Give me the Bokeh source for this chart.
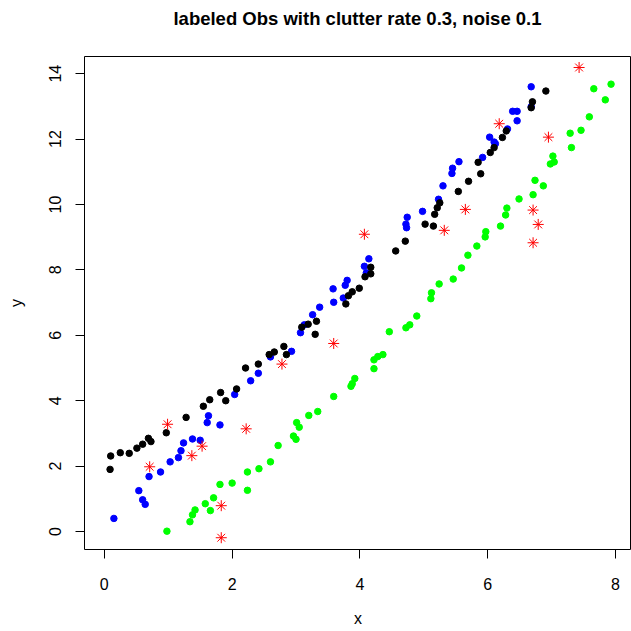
from bokeh.plotting import figure
from bokeh.models import Range1d, FixedTicker
from bokeh.layouts import column
from bokeh.core.properties import value
from bokeh.embed import file_html
from bokeh.resources import INLINE

title_text = "labeled Obs with clutter rate 0.3, noise 0.1"
x_ticks = [0, 2, 4, 6, 8]
y_ticks = [0, 2, 4, 6, 8, 10, 12, 14]

black_x = [0.09, 0.10, 0.25, 0.39, 0.51, 0.60, 0.69, 0.73, 0.97, 1.28, 1.55, 1.65, 1.82, 1.90,
           2.07, 2.21, 2.41, 2.58, 2.66, 2.81, 2.85, 3.09, 3.19, 3.32, 3.30, 3.78, 3.82, 3.88,
           3.99, 4.08, 4.17, 4.17, 4.56, 4.71, 5.02, 5.15, 5.17, 5.21, 5.25, 5.54, 5.70, 5.89,
           5.85, 6.04, 6.10, 6.23, 6.29, 6.68, 6.70, 6.91]
black_y = [1.90, 2.31, 2.41, 2.39, 2.55, 2.67, 2.85, 2.75, 3.02, 3.49, 3.83, 4.03, 4.25, 4.00,
           4.36, 5.00, 5.12, 5.41, 5.49, 5.66, 5.41, 6.25, 6.34, 6.43, 6.03, 6.96, 7.21, 7.33,
           7.44, 7.79, 7.88, 8.08, 8.58, 8.88, 9.40, 9.34, 9.70, 9.90, 10.05, 10.40, 10.71, 10.94,
           11.29, 11.59, 11.74, 12.05, 12.25, 12.96, 13.14, 13.47]

blue_x = [0.15, 0.54, 0.60, 0.64, 0.70, 0.88, 1.03, 1.16, 1.20, 1.24, 1.38, 1.50, 1.61, 1.63,
          1.81, 2.04, 2.29, 2.41, 2.60, 2.93, 3.07, 3.13, 3.26, 3.37, 3.59, 3.58, 3.74, 3.77,
          3.80, 4.07, 4.10, 4.14, 4.72, 4.73, 4.74, 4.98, 5.23, 5.30, 5.44, 5.45, 5.55, 5.92,
          6.03, 6.10, 6.12, 6.31, 6.46, 6.39, 6.46, 6.68, 6.68]
blue_y = [0.40, 1.25, 0.97, 0.83, 1.68, 1.82, 2.13, 2.26, 2.47, 2.71, 2.83, 2.79, 3.33, 3.54,
          3.26, 4.19, 4.61, 4.84, 5.34, 5.51, 6.08, 6.32, 6.63, 6.86, 7.01, 7.42, 7.14, 7.53,
          7.68, 8.11, 7.91, 8.34, 9.40, 9.29, 9.61, 9.79, 10.16, 10.57, 10.95, 11.11, 11.31, 11.44,
          12.06, 11.91, 11.86, 12.31, 12.56, 12.85, 12.85, 12.99, 13.60]

green_x = [0.98, 1.34, 1.38, 1.42, 1.58, 1.66, 1.71, 1.81, 2.00, 2.24, 2.24, 2.42, 2.60, 2.72,
           2.96, 3.00, 3.01, 3.05, 3.20, 3.34, 3.59, 3.86, 3.88, 3.92, 4.22, 4.22, 4.28, 4.36,
           4.46, 4.72, 4.78, 4.89, 5.11, 5.12, 5.24, 5.46, 5.59, 5.69, 5.83, 5.96, 5.97, 6.20,
           6.28, 6.30, 6.49, 6.71, 6.87, 6.74, 6.98, 7.04, 7.02, 7.31, 7.29, 7.46, 7.59, 7.84,
           7.66, 7.93]
green_y = [0.01, 0.30, 0.51, 0.66, 0.85, 0.64, 1.03, 1.44, 1.48, 1.26, 1.82, 1.92, 2.13, 2.63,
           2.92, 2.82, 3.33, 3.19, 3.55, 3.67, 4.13, 4.44, 4.52, 4.68, 4.98, 5.25, 5.35, 5.41,
           6.11, 6.23, 6.32, 6.59, 7.12, 7.30, 7.57, 7.72, 8.06, 8.45, 8.73, 9.01, 9.17, 9.34,
           9.68, 9.89, 10.17, 10.30, 10.57, 10.74, 11.24, 11.30, 11.48, 11.74, 12.18, 12.27, 12.68, 13.20,
           13.54, 13.68]

red_x = [0.71, 0.99, 1.37, 1.53, 1.83, 1.83, 2.22, 2.78, 3.59, 4.07, 5.32, 5.65, 6.18, 6.71,
         6.79, 6.71, 6.95, 7.43]
red_y = [1.98, 3.28, 2.32, 2.61, 0.79, -0.19, 3.14, 5.12, 5.75, 9.09, 9.21, 9.85, 12.47, 9.83,
         9.39, 8.83, 12.06, 14.19]

FONT = "Liberation Sans"
W = 631
TOP = 56
LEFT = 84

# title strip (own small figure so the title can sit high above the frame);
# its frame is aligned with the main frame by the column layout
t = figure(width=W, height=TOP, output_backend="svg", toolbar_location=None,
           x_range=Range1d(LEFT, W), y_range=Range1d(0, TOP),
           min_border=0, min_border_left=0, min_border_right=0,
           min_border_top=0, min_border_bottom=0)
t.axis.visible = False
t.grid.visible = False
t.outline_line_color = None
t.background_fill_color = "white"
t.border_fill_color = "white"
t.text(x=[357], y=[TOP - 18], text=[title_text], text_align="center",
       text_baseline="middle", text_font=value(FONT), text_font_size="18.5px",
       text_font_style="bold", text_color="black")

p = figure(width=W, height=W - TOP, output_backend="svg", toolbar_location=None,
           x_range=Range1d(-0.31, 8.25), y_range=Range1d(-0.55, 14.526),
           min_border_left=LEFT, min_border_top=0, min_border_right=0, min_border_bottom=82,
           frame_width=547, frame_height=493)

p.grid.visible = False
p.background_fill_color = "white"
p.border_fill_color = "white"
p.outline_line_color = "black"
p.outline_line_width = 1
p.outline_line_alpha = 1

for ax in (p.xaxis[0], p.yaxis[0]):
    ax.axis_line_color = None
    ax.major_tick_line_color = "black"
    ax.major_tick_out = 9
    ax.major_tick_in = 0
    ax.minor_tick_line_color = None
    ax.major_label_text_font = FONT
    ax.major_label_text_font_size = "16px"
    ax.major_label_text_color = "black"
    ax.axis_label_text_font = FONT
    ax.axis_label_text_font_size = "16px"
    ax.axis_label_text_font_style = "normal"
    ax.axis_label_text_color = "black"

p.xaxis.ticker = FixedTicker(ticks=x_ticks)
p.yaxis.ticker = FixedTicker(ticks=y_ticks)
p.xaxis.axis_label = "x"
p.yaxis.axis_label = "y"
p.xaxis.major_label_standoff = 19
p.yaxis.major_label_standoff = 14
p.yaxis.major_label_orientation = "vertical"
p.xaxis.axis_label_standoff = 17
p.yaxis.axis_label_standoff = 22

p.scatter(blue_x, blue_y, marker="circle", size=6.5, fill_color="#0000FF", line_color="#0000FF")
p.scatter(black_x, black_y, marker="circle", size=6.5, fill_color="black", line_color="black")
p.scatter(green_x, green_y, marker="circle", size=6.5, fill_color="#00FF00", line_color="#00FF00")
p.scatter(red_x, red_y, marker="asterisk", size=11, line_color="#FF0000", line_width=1)

layout = column(t, p, spacing=0)
open("out.html", "w").write(file_html(layout, INLINE))
